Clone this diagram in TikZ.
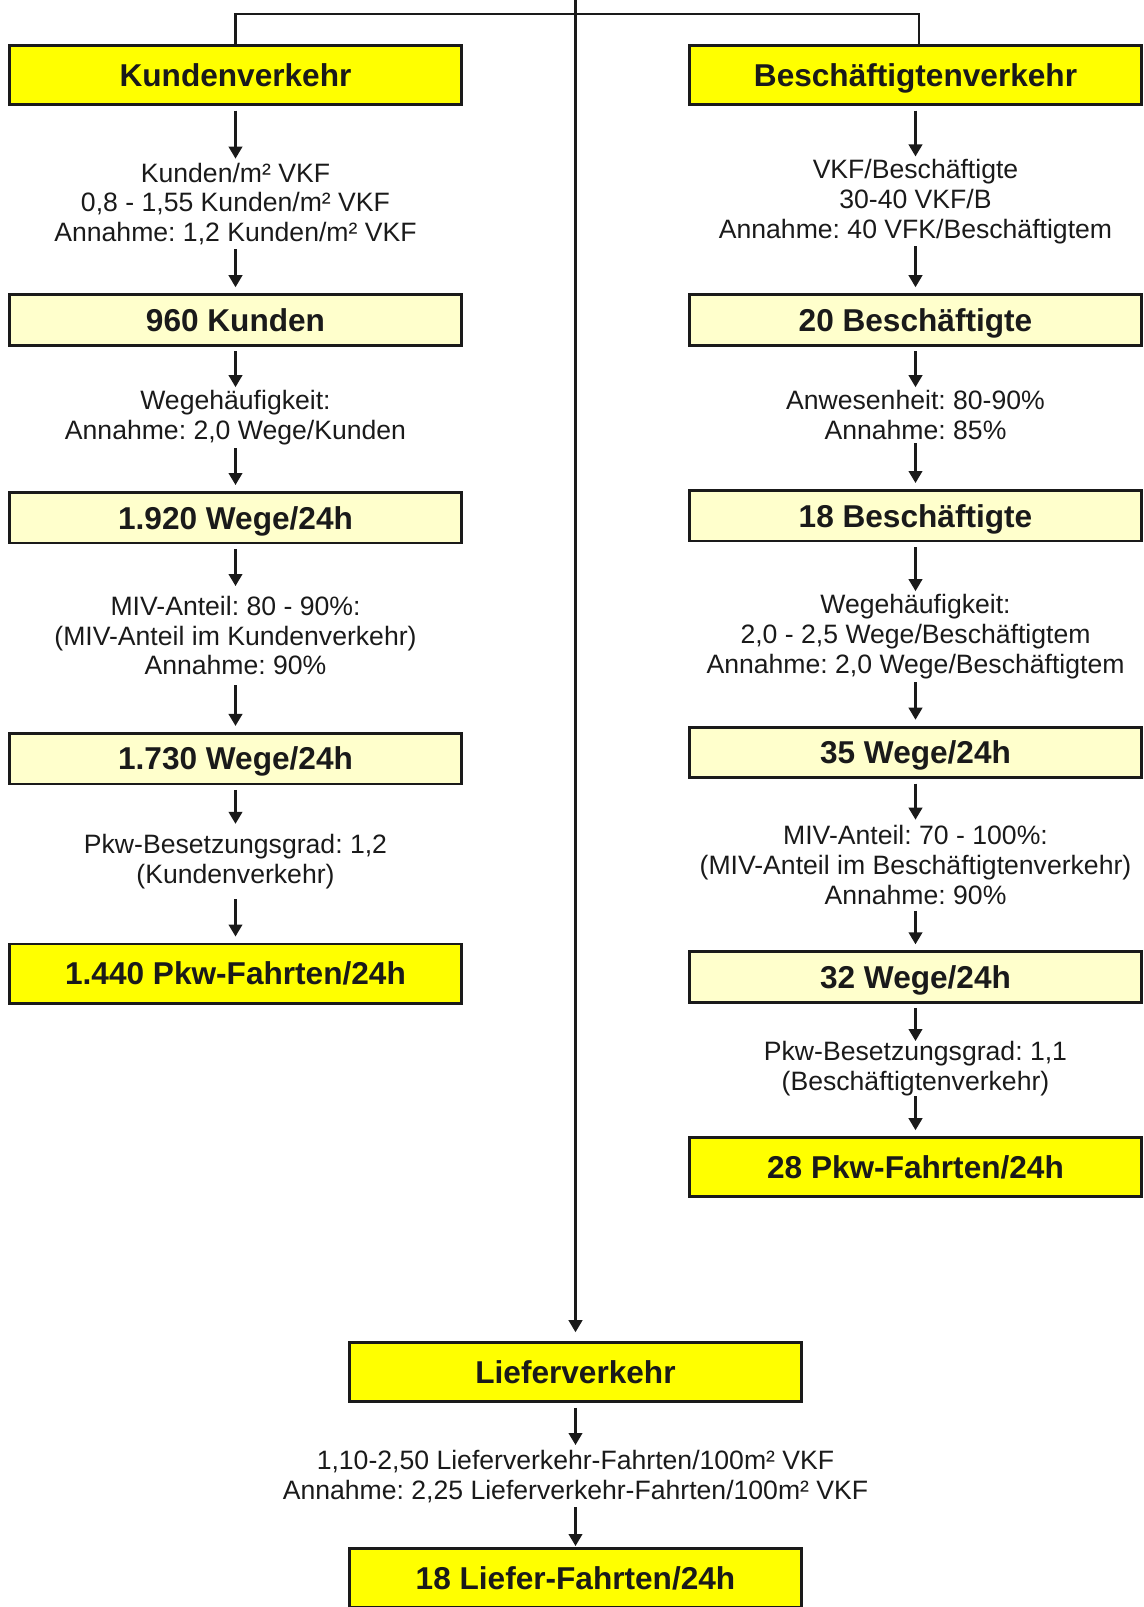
\documentclass[tikz,border=0pt]{standalone}
\usepackage{fontspec}
\setmainfont{Liberation Sans}
\usetikzlibrary{arrows.meta,calc}
\definecolor{ygelb}{HTML}{FFFF00}
\definecolor{hgelb}{HTML}{FFFFCC}
\definecolor{ink}{HTML}{1A1A1A}
\frenchspacing
\begin{document}
\begin{tikzpicture}[x=0.5pt,y=-0.5pt,
  box/.style={draw=ink, line width=1.4pt, minimum width=226pt, inner sep=0pt,
    font=\fontsize{15.8}{18}\selectfont\bfseries, text=ink, text height=11.3pt, text depth=0pt},
  mainbox/.style={box, fill=ygelb, minimum height=29.6pt},
  subbox/.style={box, fill=hgelb, minimum height=25.3pt},
  lbl/.style={inner sep=0pt, align=center, font=\fontsize{13.3}{14.9}\selectfont, text=ink},
  conn/.style={draw=ink, line width=1.1pt},
  arr/.style={conn, -{Triangle[length=6pt,width=6.8pt]}},
  from/.style={shorten <=2.3pt},
  into/.style={shorten >=3pt},
]
\useasboundingbox (0,0) rectangle (1144,1607);

% left column
\node[mainbox] (k0) at (235.5,75) {Kundenverkehr};
\node[lbl, minimum height=45pt] (l1) at (235.5,204) {Kunden/m² VKF\\0,8 - 1,55 Kunden/m² VKF\\Annahme: 1,2 Kunden/m² VKF};
\node[subbox] (k1) at (235.5,319.9) {960 Kunden};
\node[lbl, minimum height=30.25pt] (l2) at (235.5,417.75) {Wegehäufigkeit:\\Annahme: 2,0 Wege/Kunden};
\node[subbox] (k2) at (235.5,517.7) {1.920 Wege/24h};
\node[lbl, minimum height=49.2pt] (l3) at (235.5,635.6) {MIV-Anteil: 80 - 90\%:\\(MIV-Anteil im Kundenverkehr)\\Annahme: 90\%};
\node[subbox] (k3) at (235.5,758.6) {1.730 Wege/24h};
\node[lbl, minimum height=37.4pt] (l4) at (235.5,861.6) {Pkw-Besetzungsgrad: 1,2\\(Kundenverkehr)};
\node[mainbox] (k4) at (235.5,973.5) {1.440 Pkw-Fahrten/24h};

% right column
\node[mainbox] (b0) at (915.5,75) {Beschäftigtenverkehr};
\node[lbl, minimum height=44.6pt] (r1) at (915.5,201.4) {VKF/Beschäftigte\\30-40 VKF/B\\Annahme: 40 VFK/Beschäftigtem};
\node[subbox] (b1) at (915.5,319.9) {20 Beschäftigte};
\node[lbl, minimum height=27.65pt] (r2) at (915.5,415.2) {Anwesenheit: 80-90\%\\Annahme: 85\%};
\node[subbox] (b2) at (915.5,515.7) {18 Beschäftigte};
\node[lbl, minimum height=45.1pt] (r3) at (915.5,636.6) {Wegehäufigkeit:\\2,0 - 2,5 Wege/Beschäftigtem\\Annahme: 2,0 Wege/Beschäftigtem};
\node[subbox] (b3) at (915.5,752.4) {35 Wege/24h};
\node[lbl, minimum height=45.15pt] (r4) at (915.5,865.2) {MIV-Anteil: 70 - 100\%:\\(MIV-Anteil im Beschäftigtenverkehr)\\Annahme: 90\%};
\node[subbox] (b4) at (915.5,977) {32 Wege/24h};
\node[lbl, minimum height=26.15pt] (r5) at (915.5,1068.7) {Pkw-Besetzungsgrad: 1,1\\(Beschäftigtenverkehr)};
\node[mainbox] (b5) at (915.5,1167.2) {28 Pkw-Fahrten/24h};

% central column
\coordinate (top) at (575.5,0);
\coordinate (jn) at (575.5,14);
\node[mainbox] (lv) at (575.5,1372.2) {Lieferverkehr};
\node[lbl, minimum height=30.8pt] (c1) at (575.5,1476.2) {1,10-2,50 Lieferverkehr-Fahrten/100m² VKF\\Annahme: 2,25 Lieferverkehr-Fahrten/100m² VKF};
\node[mainbox] (lf) at (575.5,1578) {18 Liefer-Fahrten/24h};

% top branches
\draw[conn] (k0.north) |- (jn) -| ($(b0.north)+(3.5,0)$);
\draw[arr, shorten >=4.5pt] (top) -- (lv);

% left arrows
\draw[arr, from] (k0) -- (l1);
\draw[arr, into] (l1) -- (k1);
\draw[arr, from] (k1) -- (l2);
\draw[arr, into] (l2) -- (k2);
\draw[arr, from] (k2) -- (l3);
\draw[arr, into] (l3) -- (k3);
\draw[arr, from] (k3) -- (l4);
\draw[arr, into] (l4) -- (k4);

% right arrows
\draw[arr, from] (b0) -- (r1);
\draw[arr, into] (r1) -- (b1);
\draw[arr, from] (b1) -- (r2);
\draw[arr, into] (r2) -- (b2);
\draw[arr, from] (b2) -- (r3);
\draw[arr, into] (r3) -- (b3);
\draw[arr, from] (b3) -- (r4);
\draw[arr, into] (r4) -- (b4);
\draw[arr, from] (b4) -- (r5);
\draw[arr, into] (r5) -- (b5);

% central arrows
\draw[arr, from] (lv) -- (c1);
\draw[arr, shorten >=0.5pt] (c1) -- (lf);
\end{tikzpicture}
\end{document}
